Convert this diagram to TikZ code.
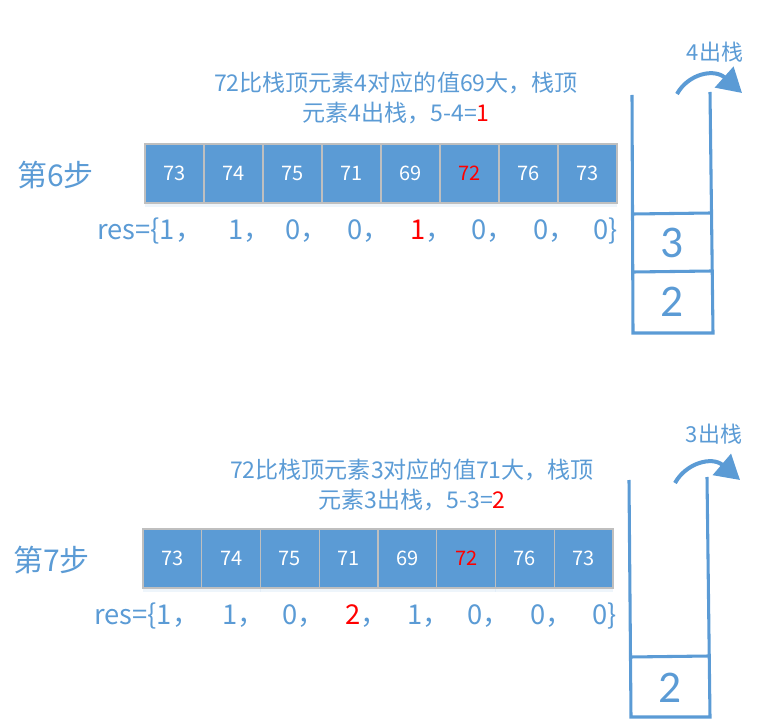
\documentclass[tikz,border=0pt]{standalone}
\usepackage{fontspec}
\setmainfont{Noto Sans CJK SC}
\newfontfamily\digitfont{Carlito}
\usepackage{xcolor}
\usetikzlibrary{arrows.meta, shadows}
\definecolor{officeblue}{HTML}{5B9BD5}
\definecolor{cellgray}{HTML}{BFBFBF}
\tikzset{
    cell/.style={draw=cellgray, line width=0.9pt, fill=officeblue, text=white, minimum width=44.2pt, minimum height=44.2pt, inner sep=0pt, font=\fontsize{15}{15}\selectfont, drop shadow={shadow xshift=0pt, shadow yshift=-3pt, fill=officeblue!40, opacity=0.25}},
    steplabel/.style={text=officeblue, anchor=west, inner sep=0pt, font=\fontsize{22.5}{22.5}\selectfont},
    note/.style={text=officeblue, align=center, inner sep=0pt, font=\fontsize{17.3}{22.5}\selectfont},
    resval/.style={text=officeblue, anchor=base west, inner sep=0pt, font=\fontsize{20.5}{20.5}\selectfont},
    stackwall/.style={draw=officeblue, line width=2.3pt},
    stackval/.style={text=officeblue, inner sep=0pt, font=\digitfont\fontsize{34}{34}\selectfont},
    popout/.style={draw=officeblue, line width=3pt, -{Triangle[length=18pt, width=20.5pt]}},
    poplabel/.style={text=officeblue, inner sep=0pt, font=\fontsize{16.5}{16.5}\selectfont}
}

\begin{document}
\begin{tikzpicture}[x=0.75pt, y=-0.75pt]
    \useasboundingbox (0,0) rectangle (761,727);

    % step 6
    \node[steplabel] (s6) at (17,175) {第6步};
    \node[note] (n6) at (396,98) {72比栈顶元素4对应的值69大，栈顶\\元素4出栈，5-4=\textcolor{red}{1}};
    \foreach \v [count=\i] in {73,74,75,71,69,{\textcolor{red}{72}},76,73}
        \node[cell] (a\i) at ({145+59*(\i-0.5)},173.5) {\v};
    \node[resval] (r6) at (97,240) {res=\{1，};
    \foreach \x/\v [count=\i] in {228/1，, 285/0，, 347/0，, 410/{\textcolor{red}{1}，}, 471/0，, 533/0，, 593/0\}}
        \node[resval] (r6\i) at (\x,240) {\v};
    \draw[stackwall] (632,95) -- (633,333) -- (713,333) -- (710,92);
    \draw[stackwall] (633,214) -- (711,213);
    \draw[stackwall] (633,272) -- (712,271);
    \node[stackval] (k6a) at (672,243) {3};
    \node[stackval] (k6b) at (672,302) {2};
    \coordinate (p6s) at (677,94);
    \coordinate (p6e) at (742,93);
    \draw[popout] (p6s) .. controls (688,74) and (714,68) .. (p6e);
    \node[poplabel] (l6) at (715,52) {4出栈};

    % step 7
    \node[steplabel] (s7) at (13,560) {第7步};
    \node[note] (n7) at (412,485) {72比栈顶元素3对应的值71大，栈顶\\元素3出栈，5-3=\textcolor{red}{2}};
    \foreach \v [count=\i] in {73,74,75,71,69,{\textcolor{red}{72}},76,73}
        \node[cell] (b\i) at ({143+58.75*(\i-0.5)},558.5) {\v};
    \node[resval] (r7) at (94,624) {res=\{1，};
    \foreach \x/\v [count=\i] in {222/1，, 282/0，, 345/{\textcolor{red}{2}，}, 407/1，, 467/0，, 530/0，, 592/0\}}
        \node[resval] (r7\i) at (\x,624) {\v};
    \draw[stackwall] (629,480) -- (631,717) -- (710,717) -- (707,477);
    \draw[stackwall] (630,657) -- (709,656);
    \node[stackval] (k7a) at (670,688) {2};
    \coordinate (p7s) at (675,483);
    \coordinate (p7e) at (740,480);
    \draw[popout] (p7s) .. controls (686,463) and (712,456) .. (p7e);
    \node[poplabel] (l7) at (714,434) {3出栈};
\end{tikzpicture}
\end{document}
